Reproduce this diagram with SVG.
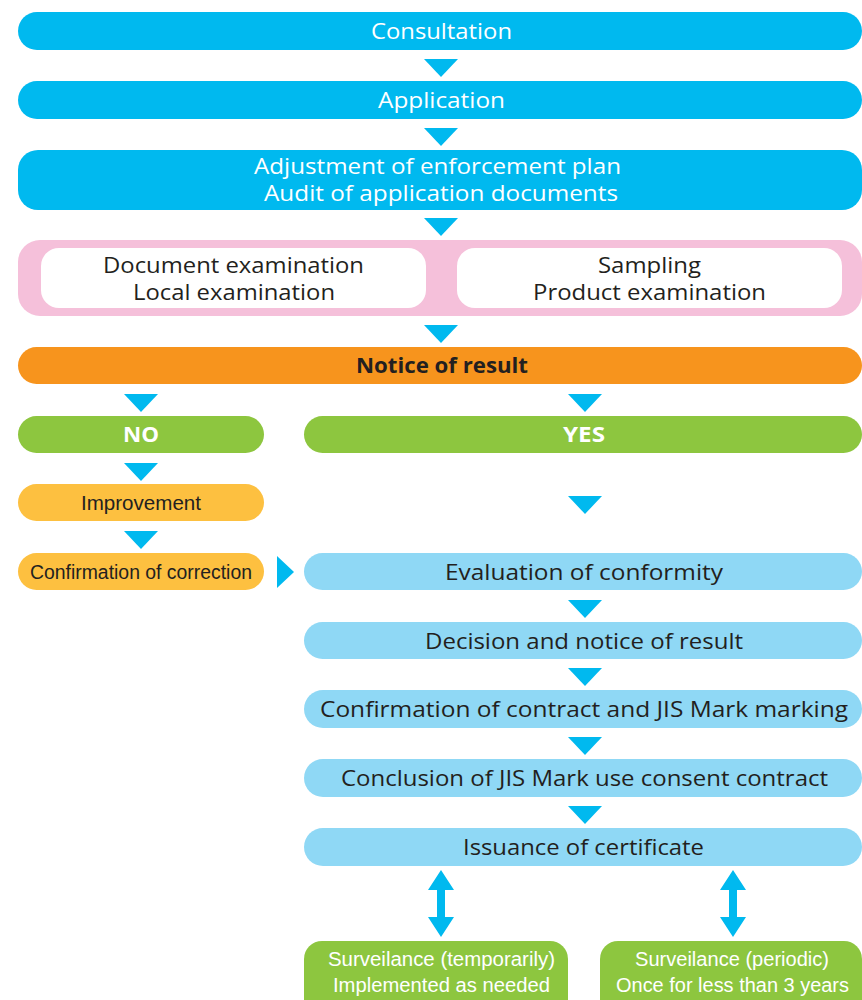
<svg xmlns="http://www.w3.org/2000/svg" width="862" height="1000" viewBox="0 0 862 1000">
<style>
.cy{fill:#00B9EF}
.lb{fill:#8FD8F5}
.gr{fill:#8DC63F}
.ye{fill:#FDC040}
.or{fill:#F7941D}
.pk{fill:#F5C0DA}
.wh{fill:#FFFFFF}
.ar{fill:#00B9EF}
text{font-family:"Open Sans","Liberation Sans",Arial,sans-serif;font-size:22px;text-anchor:middle}
.tw{fill:#FFFFFF}
.td{fill:#231F20}
.b{font-weight:bold}
.s{font-size:20px;font-family:"Liberation Sans",Arial,sans-serif}
</style>
<defs>
<path id="tri" d="M-17,0 L17,0 L0,18 Z"/>
<path id="dbl" d="M0,0 L13,20 L4,20 L4,47 L13,47 L0,67 L-13,47 L-4,47 L-4,20 L-13,20 Z"/>
</defs>

<g id="consultation">
<rect class="cy" x="18" y="12" width="844" height="38" rx="19"/>
<text class="tw" x="441.5" y="39" textLength="141" lengthAdjust="spacingAndGlyphs">Consultation</text>
</g>
<g id="application">
<rect class="cy" x="18" y="81" width="844" height="38" rx="19"/>
<text class="tw" x="441.5" y="108" textLength="127" lengthAdjust="spacingAndGlyphs">Application</text>
</g>
<g id="adjustment">
<rect class="cy" x="18" y="150" width="844" height="60" rx="20"/>
<text class="tw" x="437.5" y="174" textLength="367" lengthAdjust="spacingAndGlyphs">Adjustment of enforcement plan</text>
<text class="tw" x="441" y="201" textLength="354" lengthAdjust="spacingAndGlyphs">Audit of application documents</text>
</g>
<g id="examinations">
<rect class="pk" x="18" y="240" width="844" height="76" rx="22"/>
<rect class="wh" x="41" y="248" width="385" height="60" rx="18"/>
<rect class="wh" x="457" y="248" width="385" height="60" rx="18"/>
<text class="td" x="233.5" y="273" textLength="261" lengthAdjust="spacingAndGlyphs">Document examination</text>
<text class="td" x="234" y="300" textLength="202" lengthAdjust="spacingAndGlyphs">Local examination</text>
<text class="td" x="649.5" y="273" textLength="103" lengthAdjust="spacingAndGlyphs">Sampling</text>
<text class="td" x="649.5" y="300" textLength="233" lengthAdjust="spacingAndGlyphs">Product examination</text>
</g>
<g id="notice">
<rect class="or" x="18" y="347" width="844" height="37" rx="18.5"/>
<text class="td b" x="442" y="373" textLength="172" lengthAdjust="spacingAndGlyphs">Notice of result</text>
</g>
<g id="no">
<rect class="gr" x="18" y="416" width="246" height="37" rx="18.5"/>
<text class="tw b" x="141" y="442" font-size="20" textLength="36" lengthAdjust="spacingAndGlyphs">NO</text>
</g>
<g id="yes">
<rect class="gr" x="304" y="416" width="558" height="37" rx="18.5"/>
<text class="tw b" x="584" y="442" font-size="20" textLength="42" lengthAdjust="spacingAndGlyphs">YES</text>
</g>
<g id="improvement">
<rect class="ye" x="18" y="484" width="246" height="37" rx="18.5"/>
<text class="td s" x="141" y="510" textLength="120" lengthAdjust="spacingAndGlyphs">Improvement</text>
</g>
<g id="confirmation-correction">
<rect class="ye" x="18" y="553" width="246" height="37" rx="18.5"/>
<text class="td s" x="141" y="579" textLength="222" lengthAdjust="spacingAndGlyphs">Confirmation of correction</text>
</g>
<g id="evaluation">
<rect class="lb" x="304" y="553" width="558" height="37" rx="18.5"/>
<text class="td" x="584" y="580" textLength="278" lengthAdjust="spacingAndGlyphs">Evaluation of conformity</text>
</g>
<g id="decision">
<rect class="lb" x="304" y="622" width="558" height="37" rx="18.5"/>
<text class="td" x="584" y="649" textLength="318" lengthAdjust="spacingAndGlyphs">Decision and notice of result</text>
</g>
<g id="contract-confirmation">
<rect class="lb" x="304" y="690" width="558" height="38" rx="19"/>
<text class="td" x="584" y="717" textLength="528" lengthAdjust="spacingAndGlyphs">Confirmation of contract and JIS Mark marking</text>
</g>
<g id="conclusion">
<rect class="lb" x="304" y="759" width="558" height="38" rx="19"/>
<text class="td" x="584.5" y="786" textLength="487" lengthAdjust="spacingAndGlyphs">Conclusion of JIS Mark use consent contract</text>
</g>
<g id="issuance">
<rect class="lb" x="304" y="828" width="558" height="38" rx="19"/>
<text class="td" x="583.5" y="855" textLength="241" lengthAdjust="spacingAndGlyphs">Issuance of certificate</text>
</g>
<g id="surveillance-temporary">
<rect class="gr" x="304" y="941" width="264" height="80" rx="18"/>
<text class="tw s" x="441.5" y="966" textLength="227" lengthAdjust="spacingAndGlyphs">Surveilance (temporarily)</text>
<text class="tw s" x="441.5" y="992" textLength="217" lengthAdjust="spacingAndGlyphs">Implemented as needed</text>
</g>
<g id="surveillance-periodic">
<rect class="gr" x="600" y="941" width="262" height="80" rx="18"/>
<text class="tw s" x="732" y="966" textLength="194" lengthAdjust="spacingAndGlyphs">Surveilance (periodic)</text>
<text class="tw s" x="732.5" y="992" textLength="233" lengthAdjust="spacingAndGlyphs">Once for less than 3 years</text>
</g>

<g id="connectors">
<use href="#tri" class="ar" x="441" y="59"/>
<use href="#tri" class="ar" x="441" y="128"/>
<use href="#tri" class="ar" x="441" y="218"/>
<use href="#tri" class="ar" x="441" y="325"/>
<use href="#tri" class="ar" x="141" y="394"/>
<use href="#tri" class="ar" x="585" y="394"/>
<use href="#tri" class="ar" x="141" y="463"/>
<use href="#tri" class="ar" x="141" y="531"/>
<use href="#tri" class="ar" x="585" y="496"/>
<path class="ar" d="M277,556 L294,572 L277,588 Z"/>
<use href="#tri" class="ar" x="585" y="600"/>
<use href="#tri" class="ar" x="585" y="668"/>
<use href="#tri" class="ar" x="585" y="737"/>
<use href="#tri" class="ar" x="585" y="806"/>
<use href="#dbl" class="ar" x="441" y="870"/>
<use href="#dbl" class="ar" x="733" y="870"/>
</g>
</svg>
